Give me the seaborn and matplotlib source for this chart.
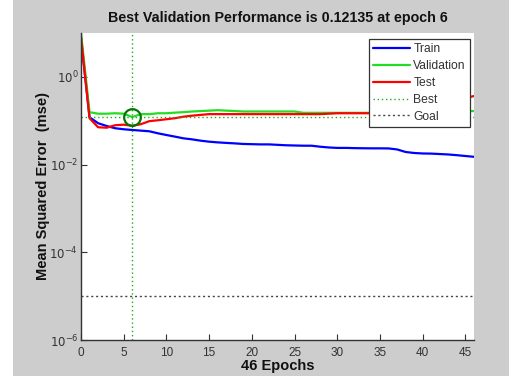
import numpy as np
import pandas as pd
import matplotlib
matplotlib.use("Agg")
import matplotlib.pyplot as plt
import seaborn as sns
from matplotlib.lines import Line2D

epochs = list(range(0, 47))
train_log = [0.88, -0.92, -1.057, -1.12, -1.172, -1.195, -1.211, -1.226, -1.241, -1.287,
             -1.326, -1.363, -1.402, -1.425, -1.455, -1.478, -1.494, -1.506, -1.517, -1.53,
             -1.535, -1.54, -1.54, -1.55, -1.56, -1.565, -1.57, -1.57, -1.593, -1.61,
             -1.62, -1.62, -1.625, -1.628, -1.63, -1.63, -1.632, -1.655, -1.713, -1.736,
             -1.747, -1.75, -1.76, -1.77, -1.786, -1.805, -1.823]
val_log = [1.0, -0.805, -0.84, -0.84, -0.83, -0.84, -0.916, -0.85, -0.85, -0.83,
           -0.83, -0.816, -0.805, -0.79, -0.78, -0.77, -0.76, -0.77, -0.78, -0.79,
           -0.79, -0.79, -0.79, -0.79, -0.79, -0.79, -0.82, -0.82, -0.82, -0.82,
           -0.82, -0.82, -0.82, -0.82, -0.82, -0.82, -0.82, -0.82, -0.82, -0.82,
           -0.82, -0.82, -0.82, -0.82, -0.80, -0.78, -0.78]
test_log = [0.897, -0.943, -1.149, -1.16, -1.103, -1.09, -1.115, -1.08, -1.01, -0.99,
            -0.966, -0.943, -0.908, -0.885, -0.867, -0.85, -0.85, -0.85, -0.85, -0.85,
            -0.85, -0.85, -0.85, -0.85, -0.85, -0.85, -0.85, -0.85, -0.85, -0.84,
            -0.83, -0.83, -0.83, -0.83, -0.83, -0.83, -0.83, -0.83, -0.82, -0.81,
            -0.805, -0.805, -0.805, -0.805, -0.80, -0.483, -0.437]
series_names = ["Train", "Validation", "Test"]
series_colors = ["#0000ff", "#22dd22", "#ff0000"]
best_epoch = 6
best_perf = 0.12135
goal = 1e-5
xticks = [0, 5, 10, 15, 20, 25, 30, 35, 40, 45]
yticks = [1e0, 1e-2, 1e-4, 1e-6]
ytick_labels = ["$10^{0}$", "$10^{-2}$", "$10^{-4}$", "$10^{-6}$"]

df = pd.concat([
    pd.DataFrame({"Epoch": epochs, "MSE": 10 ** np.array(v), "Set": n})
    for n, v in zip(series_names, [train_log, val_log, test_log])
])

sns.set_style("white")
plt.rcParams["font.family"] = ["Liberation Sans", "DejaVu Sans"]

fig = plt.figure(figsize=(5.09, 3.76), dpi=100)
fig.patch.set_facecolor("#cdcdcd")
fig.patches.append(plt.Rectangle((0, 0), 13 / 509, 1, transform=fig.transFigure,
                                 facecolor="white", edgecolor="none", zorder=0))
ax = fig.add_axes([81 / 509, 36 / 376, 393 / 509, 307 / 376])
ax.set_facecolor("white")

sns.lineplot(data=df, x="Epoch", y="MSE", hue="Set", hue_order=series_names,
             palette=series_colors, linewidth=1.6, ax=ax, legend=False)
ax.set_yscale("log")
ax.axvline(best_epoch, color="#22aa22", linestyle=(0, (1, 2)), linewidth=1.0)
ax.axhline(best_perf, color="#22aa22", linestyle=(0, (1, 2)), linewidth=1.0)
ax.axhline(goal, color="#444444", linestyle=(0, (1.5, 2)), linewidth=1.0)
ax.plot([best_epoch], [best_perf], marker="o", markersize=12, markerfacecolor="none",
        markeredgecolor="#007700", markeredgewidth=1.6)

ax.set_xlim(0, 46)
ax.set_ylim(1e-6, 1e1)
ax.set_xticks(xticks)
ax.set_yticks(yticks)
ax.set_yticklabels(ytick_labels)
ax.yaxis.set_minor_locator(matplotlib.ticker.NullLocator())
ax.tick_params(direction="in", length=4, width=0.8, colors="#333333", labelsize=8.5,
               bottom=True, left=True)
ax.tick_params(axis="x", pad=5)
ax.tick_params(axis="y", pad=2)
for s in ["top", "right"]:
    ax.spines[s].set_visible(False)
for s in ["left", "bottom"]:
    ax.spines[s].set_color("#333333")
    ax.spines[s].set_linewidth(1.0)

ax.set_title("Best Validation Performance is 0.12135 at epoch 6", fontsize=10.3,
             fontweight="bold", color="#111111", pad=8)
ax.set_xlabel("46 Epochs", fontsize=10.5, fontweight="bold", color="#111111", labelpad=0)
ax.set_ylabel("Mean Squared Error  (mse)", fontsize=10.5, fontweight="bold",
              color="#111111")
ax.yaxis.set_label_coords(-0.079, 0.5)

handles = [Line2D([], [], color=c, linewidth=1.6) for c in series_colors]
handles += [Line2D([], [], color="#22aa22", linestyle=(0, (1, 2)), linewidth=1.0),
            Line2D([], [], color="#444444", linestyle=(0, (1.5, 2)), linewidth=1.0)]
leg = ax.legend(handles, series_names + ["Best", "Goal"], loc="upper right",
                fontsize=8.7, frameon=True, fancybox=False, framealpha=1.0,
                borderpad=0.35, labelspacing=0.4, handlelength=3.0, handletextpad=0.3,
                borderaxespad=0, bbox_to_anchor=(0.99, 0.98))
leg.get_frame().set_edgecolor("#333333")
leg.get_frame().set_linewidth(0.9)
for t in leg.get_texts():
    t.set_color("#333333")

fig.savefig("out.png", dpi=100, facecolor=fig.get_facecolor())
